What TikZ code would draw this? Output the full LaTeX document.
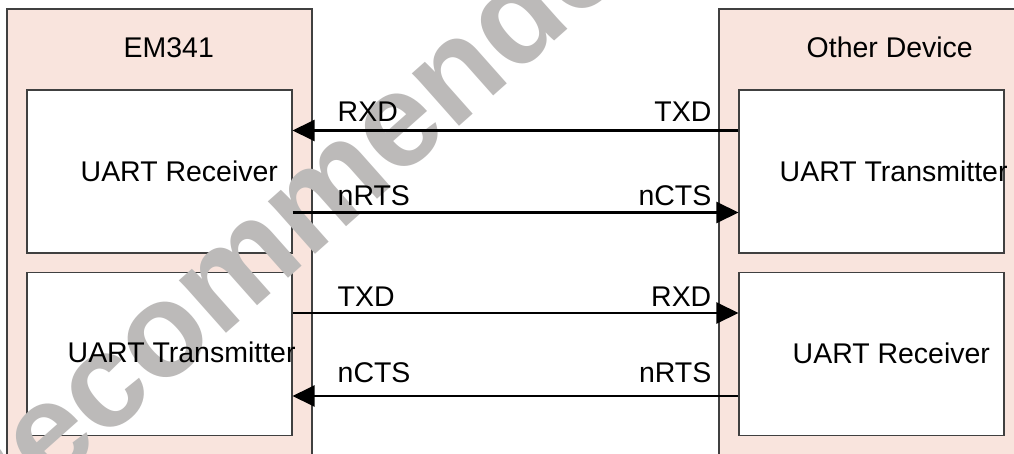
\documentclass[tikz,border=0pt]{standalone}
\usepackage{fontspec}
\setmainfont{Liberation Sans}
\usetikzlibrary{arrows.meta,positioning}
\definecolor{framepink}{RGB}{249,228,221}
\definecolor{stampgray}{RGB}{188,186,185}

\begin{document}
\begin{tikzpicture}[
  frame/.style={draw=black!75, line width=0.3pt, fill=framepink},
  unit/.style={draw=black!75, line width=0.3pt, fill=white, minimum width=2.65cm, minimum height=1.63cm, inner sep=0pt},
  txt/.style={font=\fontsize{8.1}{9.7}\selectfont, inner sep=0pt, anchor=base west},
  pinl/.style={txt},
  pinr/.style={txt, anchor=base east},
  sig/.style={line width=0.6pt, -{Triangle[length=2.2mm, width=2.1mm]}},
  stamp/.style={font=\bfseries\fontsize{38}{38}\selectfont, text=stampgray, rotate=41.6, anchor=base, inner sep=0pt},
]
\clip (0,0) rectangle (10.14,4.53);

% Device frames
\path[frame] (0.07,-0.5) rectangle (3.12,4.44);
\path[frame] (7.19,-0.5) rectangle (10.6,4.44);

% UART blocks
\node[unit] (emrx) at (1.595, 2.815) {};
\node[unit] (emtx) at (1.595, 0.99) {};
\node[unit] (odtx) at (8.715, 2.815) {};
\node[unit] (odrx) at (8.715, 0.99) {};

% Watermark
\node[stamp] (mark) at (3.33, 2.15) {Recommended};

% Titles
\node[txt] (emname) at (1.23, 3.95) {EM341};
\node[txt] (odname) at (8.06, 3.95) {Other Device};
\node[txt] (emrxname) at (0.80, 2.72) {UART Receiver};
\node[txt] (emtxname) at (0.67, 0.91) {UART Transmitter};
\node[txt] (odtxname) at (7.79, 2.72) {UART Transmitter};
\node[txt] (odrxname) at (7.92, 0.90) {UART Receiver};

% Signal names
\node[pinl] (emrxd) at (3.37, 3.31) {RXD};
\node[pinr] (odtxd) at (7.12, 3.31) {TXD};
\node[pinl] (emrts) at (3.37, 2.48) {nRTS};
\node[pinr] (odcts) at (7.12, 2.48) {nCTS};
\node[pinl] (emtxd) at (3.37, 1.47) {TXD};
\node[pinr] (odrxd) at (7.12, 1.47) {RXD};
\node[pinl] (emcts) at (3.37, 0.705) {nCTS};
\node[pinr] (odrts) at (7.12, 0.705) {nRTS};

% Signals
\draw[sig] ([yshift=4.1mm]odtx.west) -- ([yshift=4.1mm]emrx.east);
\draw[sig] ([yshift=-4.1mm]emrx.east) -- ([yshift=-4.1mm]odtx.west);
\draw[sig] ([yshift=4.1mm]emtx.east) -- ([yshift=4.1mm]odrx.west);
\draw[sig] ([yshift=-4.2mm]odrx.west) -- ([yshift=-4.2mm]emtx.east);

\end{tikzpicture}
\end{document}
